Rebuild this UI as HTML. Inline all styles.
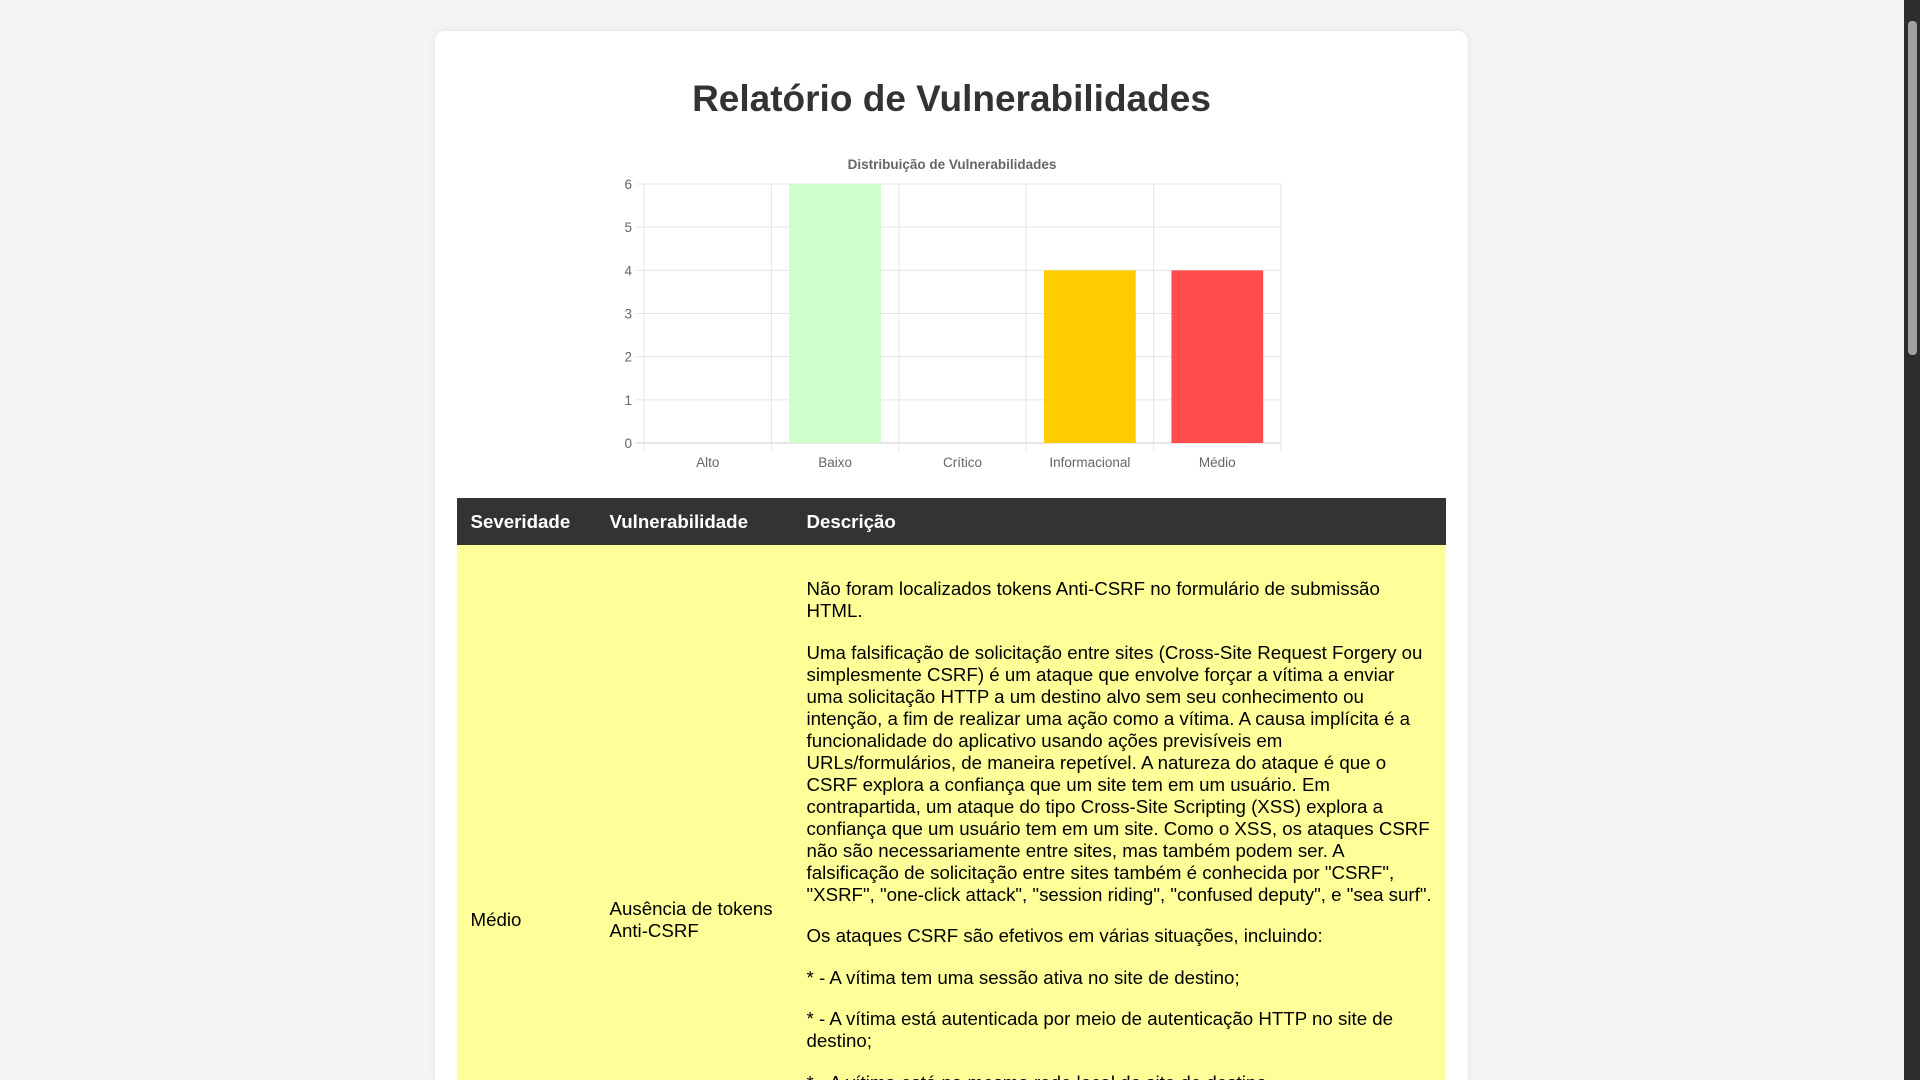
<!DOCTYPE html>
<html><head><meta charset="utf-8"><style>
html,body{margin:0;padding:0;width:1920px;height:1080px;overflow:hidden;}
body{background:#f4f4f4;font-family:"Liberation Sans",Arial,sans-serif;position:relative;}
.card{position:absolute;left:435px;top:31px;width:1033px;height:1049px;overflow:hidden;background:#fff;border-radius:10px 10px 0 0;box-shadow:0 0 8px rgba(0,0,0,0.08);}
h1{position:absolute;left:0;width:100%;top:45px;margin:0;text-align:center;font-size:37px;line-height:46px;color:#333;font-weight:bold;}
#chart{position:absolute;left:0;top:0;}
table{position:absolute;left:22px;top:467px;width:989px;border-collapse:collapse;table-layout:fixed;font-size:18.7px;color:#000;}
th{background:#333;color:#fff;text-align:left;height:47px;padding:0 13.5px;font-size:18.7px;}
td{background:#ffff99;vertical-align:middle;padding:0 13.5px;line-height:22px;}
td.vul{padding-right:4px;}
td.desc{vertical-align:top;padding-top:13.5px;}
td.desc p{margin:19.6px 0;}
.sb{position:absolute;right:0;top:0;width:16px;height:1080px;background:#2d2d2d;}
.thumb{position:absolute;left:4px;top:21px;width:9px;height:334px;background:#a0a0a0;border-radius:4px;}
</style></head><body>
<div class="card">
<h1>Relatório de Vulnerabilidades</h1>
<svg id="chart" width="1033" height="470"></svg>
<table>
<colgroup><col style="width:139px"><col style="width:197px"><col></colgroup>
<tr>
<th>Severidade</th>
<th>Vulnerabilidade</th>
<th>Descrição</th></tr>
<tr>
<td style="height:750px">Médio</td>
<td class="vul">Ausência de tokens Anti-CSRF</td>
<td class="desc">
<p>Não foram localizados tokens Anti-CSRF no formulário de submissão HTML.</p>
<p>Uma falsificação de solicitação entre sites (Cross-Site Request Forgery ou simplesmente CSRF) é um ataque que envolve forçar a vítima a enviar uma solicitação HTTP a um destino alvo sem seu conhecimento ou intenção, a fim de realizar uma ação como a vítima. A causa implícita é a funcionalidade do aplicativo usando ações previsíveis em URLs/formulários, de maneira repetível. A natureza do ataque é que o CSRF explora a confiança que um site tem em um usuário. Em contrapartida, um ataque do tipo Cross-Site Scripting (XSS) explora a confiança que um usuário tem em um site. Como o XSS, os ataques CSRF não são necessariamente entre sites, mas também podem ser. A falsificação de solicitação entre sites também é conhecida por "CSRF", "XSRF", "one-click attack", "session riding", "confused deputy", e "sea surf".</p>
<p>Os ataques CSRF são efetivos em várias situações, incluindo:</p>
<p>* - A vítima tem uma sessão ativa no site de destino;</p>
<p>* - A vítima está autenticada por meio de autenticação HTTP no site de destino;</p>
<p>* - A vítima está na mesma rede local do site de destino.</p>
</td></tr></table>
</div>
<div class="sb"><div class="thumb"></div></div>
<script>
const categories=["Alto","Baixo","Crítico","Informacional","Médio"];
const values=[0,6,0,4,4];
const colors=["#ff9f40","#ccffcc","#9966ff","#ffcc00","#ff4d4d"];
const yTicks=[0,1,2,3,4,5,6];
const svg=document.getElementById('chart');
const NS='http://www.w3.org/2000/svg';
const L=644-435,R=1281-435,T=184-31,B=443-31,yMax=6;
const y=v=>B-(v/yMax)*(B-T);
const cw=(R-L)/categories.length;
const x=i=>L+i*cw;
function mk(t,a){const e=document.createElementNS(NS,t);for(const k in a)e.setAttribute(k,a[k]);svg.appendChild(e);return e;}
let tt=mk('text',{x:517,y:138,'text-anchor':'middle','font-size':'13.5','font-weight':'bold',fill:'#666','font-family':'Liberation Sans, sans-serif'});
tt.textContent='Distribuição de Vulnerabilidades';


yTicks.forEach(v=>{
 const g=mk('line',{x1:L-8,x2:R,y1:y(v),y2:y(v),stroke:v===0?'#ccc':'#e5e5e5'});
 
 
 const t=mk('text',{x:L-12,y:y(v)+5,'text-anchor':'end','font-size':'13.5',fill:'#666','font-family':'Liberation Sans, sans-serif'});
 t.textContent=v;
 
 
});
for(let i=0;i<=categories.length;i++){
 const g=mk('line',{x1:x(i),x2:x(i),y1:T,y2:B+8,stroke:'#e5e5e5'});
 
 
}
categories.forEach((c,i)=>{
 const bw=cw*0.72;
 const r=mk('rect',{x:x(i)+(cw-bw)/2,y:y(values[i]),width:bw,height:B-y(values[i]),fill:colors[i]});
 
 
 const t=mk('text',{x:x(i)+cw/2,y:B+24,'text-anchor':'middle','font-size':'13.5',fill:'#666','font-family':'Liberation Sans, sans-serif'});
 t.textContent=c;
 
 
});
</script>
</body></html>
